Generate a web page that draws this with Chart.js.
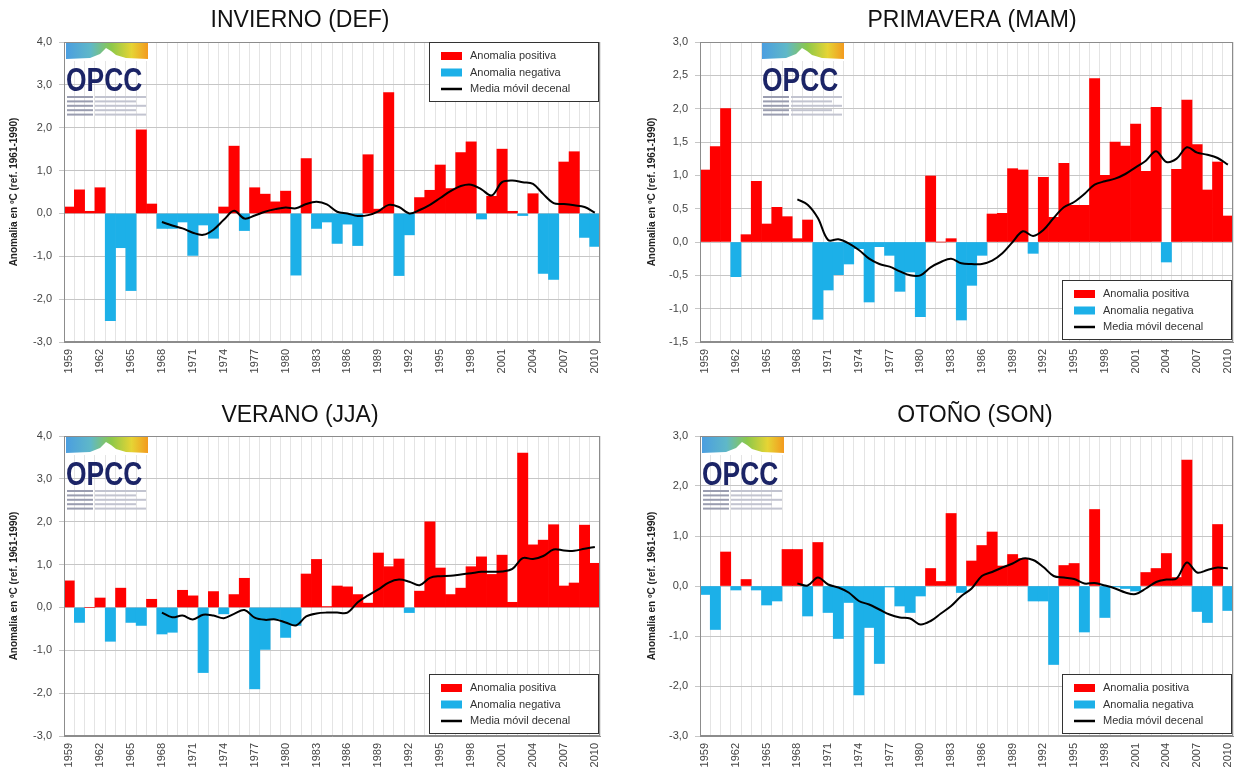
<!DOCTYPE html>
<html lang="es">
<head>
<meta charset="utf-8">
<title>Anomalías estacionales de temperatura 1959-2010</title>
<script src="https://cdn.jsdelivr.net/npm/chart.js@4.4.1/dist/chart.umd.min.js"></script>
<style>
    html, body { margin: 0; padding: 0; background: #fff; }
    body { width: 1236px; height: 775px; position: relative; overflow: hidden; }
    canvas { position: absolute; display: block; }
    #p1 { left: 0; top: 0; }
    #p2 { left: 638px; top: 0; }
    #p3 { left: 0; top: 395px; }
    #p4 { left: 638px; top: 395px; }
</style>
</head>
<body>
<canvas id="p1" width="610" height="395"></canvas>
<canvas id="p2" width="598" height="395"></canvas>
<canvas id="p3" width="610" height="380"></canvas>
<canvas id="p4" width="598" height="380"></canvas>

<script>
// Years on the x axis
const years = [
    '1959', '1960', '1961', '1962', '1963', '1964', '1965', '1966', '1967', '1968',
    '1969', '1970', '1971', '1972', '1973', '1974', '1975', '1976', '1977', '1978',
    '1979', '1980', '1981', '1982', '1983', '1984', '1985', '1986', '1987', '1988',
    '1989', '1990', '1991', '1992', '1993', '1994', '1995', '1996', '1997', '1998',
    '1999', '2000', '2001', '2002', '2003', '2004', '2005', '2006', '2007', '2008',
    '2009', '2010'
];

// Seasonal anomalies (ºC, ref. 1961-1990), 1959-2010
const invBars = [
    0.15, 0.55, 0.05, 0.6, -2.5, -0.8, -1.8, 1.95, 0.22, -0.35,
    -0.35, -0.2, -0.98, -0.27, -0.58, 0.15, 1.57, -0.4, 0.6, 0.45,
    0.27, 0.52, -1.44, 1.28, -0.35, -0.2, -0.7, -0.25, -0.75, 1.37,
    0.1, 2.82, -1.45, -0.5, 0.37, 0.54, 1.13, 0.58, 1.42, 1.67,
    -0.13, 0.4, 1.5, 0.05, -0.05, 0.46, -1.4, -1.54, 1.2, 1.44,
    -0.56, -0.77
];
const priBars = [
    1.08, 1.43, 2.0, -0.52, 0.11, 0.91, 0.27, 0.52, 0.38, 0.05,
    0.33, -1.16, -0.72, -0.49, -0.33, -0.1, -0.9, -0.07, -0.2, -0.74,
    -0.45, -1.12, 0.99, 0.0, 0.05, -1.17, -0.65, -0.2, 0.42, 0.43,
    1.1, 1.08, -0.17, 0.97, 0.37, 1.18, 0.55, 0.55, 2.45, 1.0,
    1.5, 1.44, 1.77, 1.06, 2.02, -0.3, 1.09, 2.13, 1.46, 0.78,
    1.2, 0.39
];
const verBars = [
    0.62, -0.35, 0.0, 0.22, -0.79, 0.45, -0.35, -0.42, 0.19, -0.62,
    -0.58, 0.4, 0.27, -1.52, 0.37, -0.15, 0.3, 0.68, -1.9, -0.98,
    -0.27, -0.7, -0.42, 0.78, 1.12, 0.02, 0.5, 0.48, 0.3, 0.1,
    1.27, 0.95, 1.13, -0.12, 0.38, 2.0, 0.92, 0.3, 0.45, 0.95,
    1.18, 0.77, 1.22, 0.12, 3.6, 1.46, 1.57, 1.93, 0.5, 0.57,
    1.92, 1.03
];
const otoBars = [
    -0.17, -0.87, 0.68, -0.08, 0.13, -0.08, -0.38, -0.3, 0.73, 0.73,
    -0.6, 0.87, -0.53, -1.05, -0.33, -2.18, -0.83, -1.55, -0.02, -0.4,
    -0.53, -0.2, 0.35, 0.09, 1.45, -0.13, 0.5, 0.81, 1.08, 0.4,
    0.63, 0.55, -0.3, -0.3, -1.57, 0.41, 0.45, -0.92, 1.53, -0.63,
    -0.02, -0.05, -0.1, 0.27, 0.35, 0.65, 0.17, 2.52, -0.51, -0.73,
    1.23, -0.49
];

// Decadal moving average, 1968-2010
const avgStart = '1968';
const invAvg = [
    -0.2, -0.28, -0.35, -0.45, -0.5, -0.38, -0.15, 0.06, -0.12, -0.05,
    0.04, 0.1, 0.14, 0.12, 0.22, 0.27, 0.21, 0.04, 0.0, -0.06,
    -0.04, 0.05, 0.2, 0.15, 0.0, 0.08, 0.2, 0.36, 0.52, 0.64,
    0.67, 0.56, 0.42, 0.73, 0.77, 0.73, 0.69, 0.45, 0.24, 0.22,
    0.19, 0.15, 0.02
];
const priAvg = [
    0.64, 0.56, 0.36, 0.03, 0.04, -0.02, -0.12, -0.25, -0.33, -0.37,
    -0.44, -0.5, -0.5, -0.38, -0.3, -0.25, -0.32, -0.33, -0.33, -0.28,
    -0.17, 0.0, 0.16, 0.09, 0.18, 0.36, 0.52, 0.6, 0.72, 0.86,
    0.91, 0.95, 1.02, 1.12, 1.22, 1.36, 1.2, 1.25, 1.42, 1.34,
    1.31, 1.26, 1.16
];
const verAvg = [
    -0.12, -0.23, -0.19, -0.28, -0.17, -0.19, -0.25, -0.15, -0.06, -0.24,
    -0.29, -0.28, -0.35, -0.42, -0.21, -0.14, -0.12, -0.12, -0.12, 0.12,
    0.28, 0.42, 0.58, 0.65, 0.6, 0.52, 0.69, 0.73, 0.74, 0.77,
    0.8, 0.83, 0.83, 0.84, 0.9, 1.15, 1.13, 1.2, 1.35, 1.33,
    1.32, 1.37, 1.41
];
const otoAvg = [
    0.05, 0.01, 0.17, 0.03, -0.03, -0.13, -0.3, -0.37, -0.47, -0.57,
    -0.63, -0.65, -0.77, -0.7, -0.55, -0.4, -0.2, -0.05, 0.2, 0.28,
    0.37, 0.45, 0.55, 0.52, 0.38, 0.2, 0.17, 0.14, 0.05, 0.06,
    0.01, -0.05, -0.13, -0.16, -0.05, 0.08, 0.13, 0.15, 0.47, 0.27,
    0.32, 0.37, 0.35
];

const RED = '#ff0000';
const BLUE = '#1cb0e8';
const FONT = '"Liberation Sans", Arial, sans-serif';

Chart.defaults.font.family = FONT;
Chart.defaults.animation = false;

// Titles, OPCC logo, legend box and plot frame
const panelDecor = {
    id: 'panelDecor',
    afterDatasetsDraw(chart, args, opts) {
        const ctx = chart.ctx;
        const area = chart.chartArea;

        ctx.save();
        ctx.strokeStyle = '#8c8c8c';
        ctx.lineWidth = 1;
        ctx.strokeRect(area.left + 0.5, area.top + 0.5, area.width - 1, area.height - 1);
        ctx.restore();

        drawLogo(ctx, area.left + opts.logoX, area.top + 1);

        const w = 170, h = 60;
        const lx = area.right - w - 1;
        const ly = opts.legend === 'top' ? area.top : area.bottom - h - 2;
        drawLegend(ctx, lx, ly, w, h, chart.data.datasets);
    },
    afterDraw(chart, args, opts) {
        const ctx = chart.ctx;
        ctx.save();
        ctx.font = '23px ' + FONT;
        ctx.fillStyle = '#111';
        ctx.textAlign = 'center';
        ctx.textBaseline = 'middle';
        ctx.fillText(opts.title, opts.titleX, 21);
        ctx.restore();
    }
};

function drawLogo(ctx, x, y) {
    ctx.save();
    const g = ctx.createLinearGradient(x, 0, x + 82, 0);
    g.addColorStop(0, '#4b9ee0');
    g.addColorStop(0.3, '#5fb8c8');
    g.addColorStop(0.55, '#8cc84a');
    g.addColorStop(0.8, '#e6d434');
    g.addColorStop(1, '#f39a1e');
    ctx.fillStyle = g;
    ctx.fillRect(x, y, 82, 18);

    // white mountain ridge
    ctx.fillStyle = '#fff';
    ctx.beginPath();
    ctx.moveTo(x, y + 18);
    ctx.lineTo(x, y + 16);
    ctx.lineTo(x + 24, y + 15);
    ctx.lineTo(x + 34, y + 11);
    ctx.lineTo(x + 40, y + 5);
    ctx.lineTo(x + 45, y + 8);
    ctx.lineTo(x + 50, y + 12);
    ctx.lineTo(x + 60, y + 15);
    ctx.lineTo(x + 82, y + 16);
    ctx.lineTo(x + 82, y + 18);
    ctx.closePath();
    ctx.fill();

    ctx.fillStyle = '#1b2466';
    ctx.font = 'bold 33px ' + FONT;
    ctx.textAlign = 'left';
    ctx.textBaseline = 'alphabetic';
    ctx.translate(x, y + 48);
    ctx.scale(0.8, 1);
    ctx.fillText('OPCC', 0, 0);
    ctx.setTransform(1, 0, 0, 1, 0, 0);

    for (let i = 0; i < 5; i++) {
        ctx.fillStyle = '#9a9db0';
        ctx.fillRect(x + 1, y + 53 + i * 4.4, 26, 2);
        ctx.fillStyle = '#c2c4d0';
        ctx.fillRect(x + 29, y + 53 + i * 4.4, 51 - (i % 2) * 10, 2);
    }
    ctx.restore();
}

function drawLegend(ctx, x, y, w, h, datasets) {
    const pos = datasets.find(d => d.key === 'pos');
    const neg = datasets.find(d => d.key === 'neg');
    const avg = datasets.find(d => d.key === 'avg');

    ctx.save();
    ctx.fillStyle = '#fff';
    ctx.fillRect(x, y, w, h);
    ctx.strokeStyle = '#333';
    ctx.lineWidth = 1;
    ctx.strokeRect(x + 0.5, y + 0.5, w - 1, h - 1);

    ctx.font = '11px ' + FONT;
    ctx.textAlign = 'left';
    ctx.textBaseline = 'middle';

    const rows = [y + 14, y + 30.5, y + 47];
    ctx.fillStyle = pos.backgroundColor;
    ctx.fillRect(x + 12, rows[0] - 4, 21, 8);
    ctx.fillStyle = neg.backgroundColor;
    ctx.fillRect(x + 12, rows[1] - 4, 21, 8);
    ctx.strokeStyle = '#000';
    ctx.lineWidth = 2.5;
    ctx.beginPath();
    ctx.moveTo(x + 12, rows[2]);
    ctx.lineTo(x + 33, rows[2]);
    ctx.stroke();

    ctx.fillStyle = '#333';
    ctx.fillText(pos.label, x + 41, rows[0]);
    ctx.fillText(neg.label, x + 41, rows[1]);
    ctx.fillText(avg.label, x + 41, rows[2]);
    ctx.restore();
}

function makePanel(p) {
    const canvas = document.getElementById(p.id);
    const lead = years.indexOf(avgStart);
    const avgData = years.map((y, i) => i < lead ? null : p.avg[i - lead]);
    const xHeight = canvas.height - p.top - 300;

    return new Chart(canvas.getContext('2d'), {
        type: 'bar',
        data: {
            labels: years,
            datasets: [
                {
                    key: 'avg',
                    type: 'line',
                    label: 'Media móvil decenal',
                    data: avgData,
                    borderColor: '#000',
                    borderWidth: 2,
                    pointRadius: 0,
                    tension: 0.35,
                    order: 0
                },
                {
                    key: 'pos',
                    label: 'Anomalia positiva',
                    data: p.bars.map(v => v >= 0 ? v : null),
                    backgroundColor: RED,
                    grouped: false,
                    barPercentage: 1,
                    categoryPercentage: 1,
                    order: 1
                },
                {
                    key: 'neg',
                    label: 'Anomalia negativa',
                    data: p.bars.map(v => v < 0 ? v : null),
                    backgroundColor: BLUE,
                    grouped: false,
                    barPercentage: 1,
                    categoryPercentage: 1,
                    order: 1
                }
            ]
        },
        options: {
            responsive: false,
            layout: { padding: { top: p.top, left: 4, right: p.padRight, bottom: 0 } },
            plugins: {
                legend: { display: false },
                tooltip: { enabled: false },
                panelDecor: { title: p.title, titleX: p.titleX, legend: p.legend, logoX: p.logoX }
            },
            scales: {
                x: {
                    grid: { color: '#e4e4e4', offset: true, drawTicks: false },
                    border: { color: '#8c8c8c' },
                    ticks: {
                        autoSkip: false,
                        minRotation: 90,
                        maxRotation: 90,
                        padding: 7,
                        color: '#444',
                        font: { size: 11 },
                        callback: function(val, i) {
                            return i % 3 === 0 ? this.getLabelForValue(val) : '';
                        }
                    },
                    afterFit: s => {
                        s.height = xHeight;
                        s.paddingLeft = 0;
                        s.paddingRight = 0;
                    }
                },
                y: {
                    min: p.yMin,
                    max: p.yMax,
                    grid: { color: '#c6c6c6', tickLength: 5 },
                    border: { color: '#8c8c8c' },
                    ticks: {
                        stepSize: p.yStep,
                        padding: 7,
                        color: '#444',
                        font: { size: 11 },
                        callback: v => v.toFixed(1).replace('.', ',')
                    },
                    title: {
                        display: true,
                        text: 'Anomalia en ºC (ref. 1961-1990)',
                        color: '#222',
                        font: { size: 10, weight: 'bold' }
                    },
                    afterFit: s => {
                        s.width = p.yWidth;
                        s.paddingTop = 0;
                        s.paddingBottom = 0;
                    }
                }
            }
        },
        plugins: [panelDecor]
    });
}

makePanel({ id: 'p1', title: 'INVIERNO (DEF)', titleX: 300, bars: invBars, avg: invAvg,
    yMin: -3, yMax: 4, yStep: 1, legend: 'top', logoX: 2, top: 42, yWidth: 60, padRight: 10 });
makePanel({ id: 'p2', title: 'PRIMAVERA (MAM)', titleX: 334, bars: priBars, avg: priAvg,
    yMin: -1.5, yMax: 3, yStep: 0.5, legend: 'bottom', logoX: 62, top: 42, yWidth: 58, padRight: 3 });
makePanel({ id: 'p3', title: 'VERANO (JJA)', titleX: 300, bars: verBars, avg: verAvg,
    yMin: -3, yMax: 4, yStep: 1, legend: 'bottom', logoX: 2, top: 41, yWidth: 60, padRight: 10 });
makePanel({ id: 'p4', title: 'OTOÑO (SON)', titleX: 337, bars: otoBars, avg: otoAvg,
    yMin: -3, yMax: 3, yStep: 1, legend: 'bottom', logoX: 2, top: 41, yWidth: 58, padRight: 3 });
</script>
</body>
</html>
